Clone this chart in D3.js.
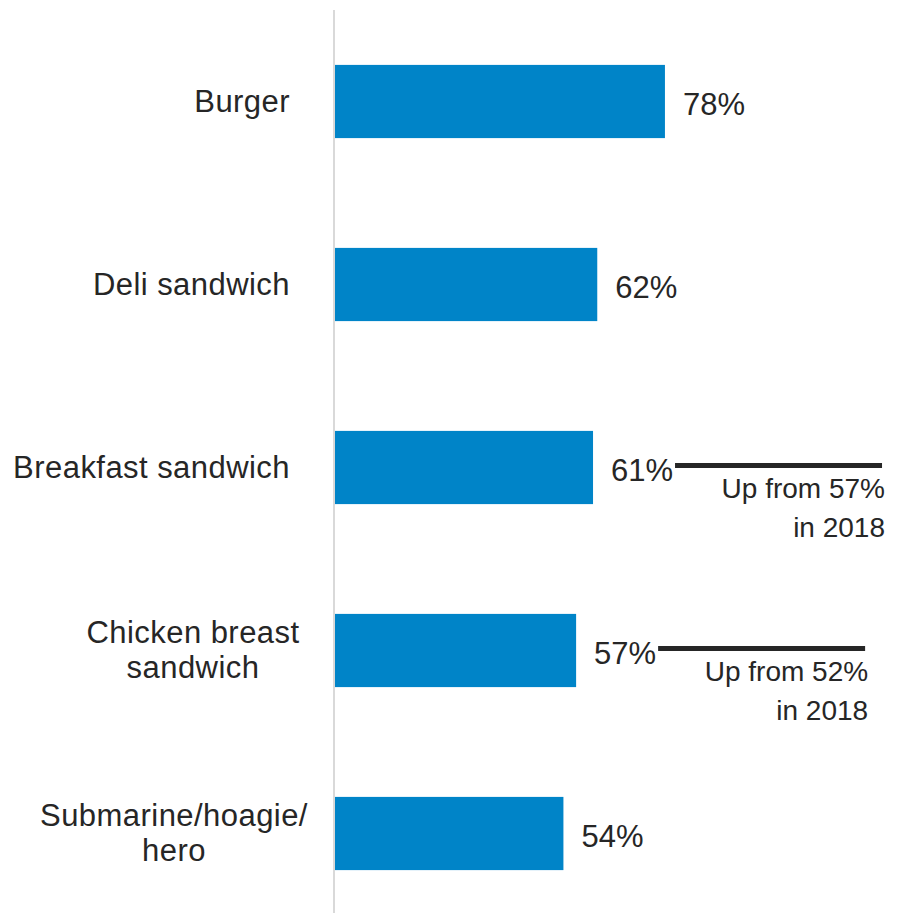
<!DOCTYPE html>
<html>
<head>
<meta charset="utf-8">
<script src="https://cdn.jsdelivr.net/npm/d3@7/dist/d3.min.js"></script>
<style>
  html, body { margin: 0; padding: 0; background: #fff; }
  svg { display: block; font-family: "Liberation Sans", Arial, sans-serif; }
</style>
</head>
<body>
<svg id="chart" width="903" height="913"></svg>
<script>
// ---- data ----
const categories = ["Burger", "Deli sandwich", "Breakfast sandwich", "Chicken breast\nsandwich", "Submarine/hoagie/\nhero"];
const values = [78, 62, 61, 57, 54];
const annotations = [null, null, ["Up from 57%", "in 2018"], ["Up from 52%", "in 2018"], null];

// ---- layout / style ----
const W = 903, H = 913;
const barColor = "#0084c8";
const textColor = "#262626";
const labelSize = 31, noteSize = 28;
const labelCenters = [null, null, null, 193, 174]; // centred multi-line labels

const svg = d3.select("#chart");

const y = d3.scaleBand()
  .domain(d3.range(categories.length))
  .range([10, 925])
  .paddingInner(0.6)
  .paddingOuter(0.3);

const x = d3.scaleLinear().domain([0, 100]).range([335, 758]);

// bars
svg.selectAll("rect.bar")
  .data(values)
  .join("rect")
  .attr("class", "bar")
  .attr("x", x(0))
  .attr("y", (d, i) => y(i))
  .attr("width", d => x(d) - x(0))
  .attr("height", y.bandwidth())
  .attr("fill", barColor);

// axis line
svg.append("line")
  .attr("x1", 334).attr("x2", 334)
  .attr("y1", 10).attr("y2", H)
  .attr("stroke", "#d9d9d9")
  .attr("stroke-width", 2);

// category labels
categories.forEach((c, i) => {
  const lines = c.split("\n");
  const cy = y(i) + y.bandwidth() / 2;
  const t = svg.append("text")
    .attr("fill", textColor)
    .attr("font-size", labelSize)
    .attr("letter-spacing", 0.45);
  if (lines.length === 1) {
    t.attr("text-anchor", "end").attr("x", 290).attr("y", cy + 10).text(c);
  } else {
    const lh = 35.5;
    const y0 = cy + 10 - lh * (lines.length - 1) / 2;
    t.attr("text-anchor", "middle");
    lines.forEach((l, k) => {
      t.append("tspan").attr("x", labelCenters[i]).attr("y", y0 + k * lh).text(l);
    });
  }
});

// value labels
svg.selectAll("text.val")
  .data(values)
  .join("text")
  .attr("class", "val")
  .attr("x", d => x(d) + 18)
  .attr("y", (d, i) => y(i) + y.bandwidth() / 2 + 13.5)
  .attr("fill", textColor)
  .attr("font-size", labelSize)
  .text(d => d + "%");

// annotations
annotations.forEach((a, i) => {
  if (!a) return;
  const end = x(values[i]);
  const cy = y(i) + y.bandwidth() / 2;
  svg.append("line")
    .attr("x1", end + 82).attr("x2", end + 289)
    .attr("y1", cy - 2).attr("y2", cy - 2)
    .attr("stroke", "#262626")
    .attr("stroke-width", 5);
  const t = svg.append("text")
    .attr("fill", textColor)
    .attr("font-size", noteSize)
    .attr("text-anchor", "end");
  a.forEach((l, k) => {
    t.append("tspan").attr("x", end + 292).attr("y", cy + 30.5 + k * 39).text(l);
  });
});
</script>
</body>
</html>
